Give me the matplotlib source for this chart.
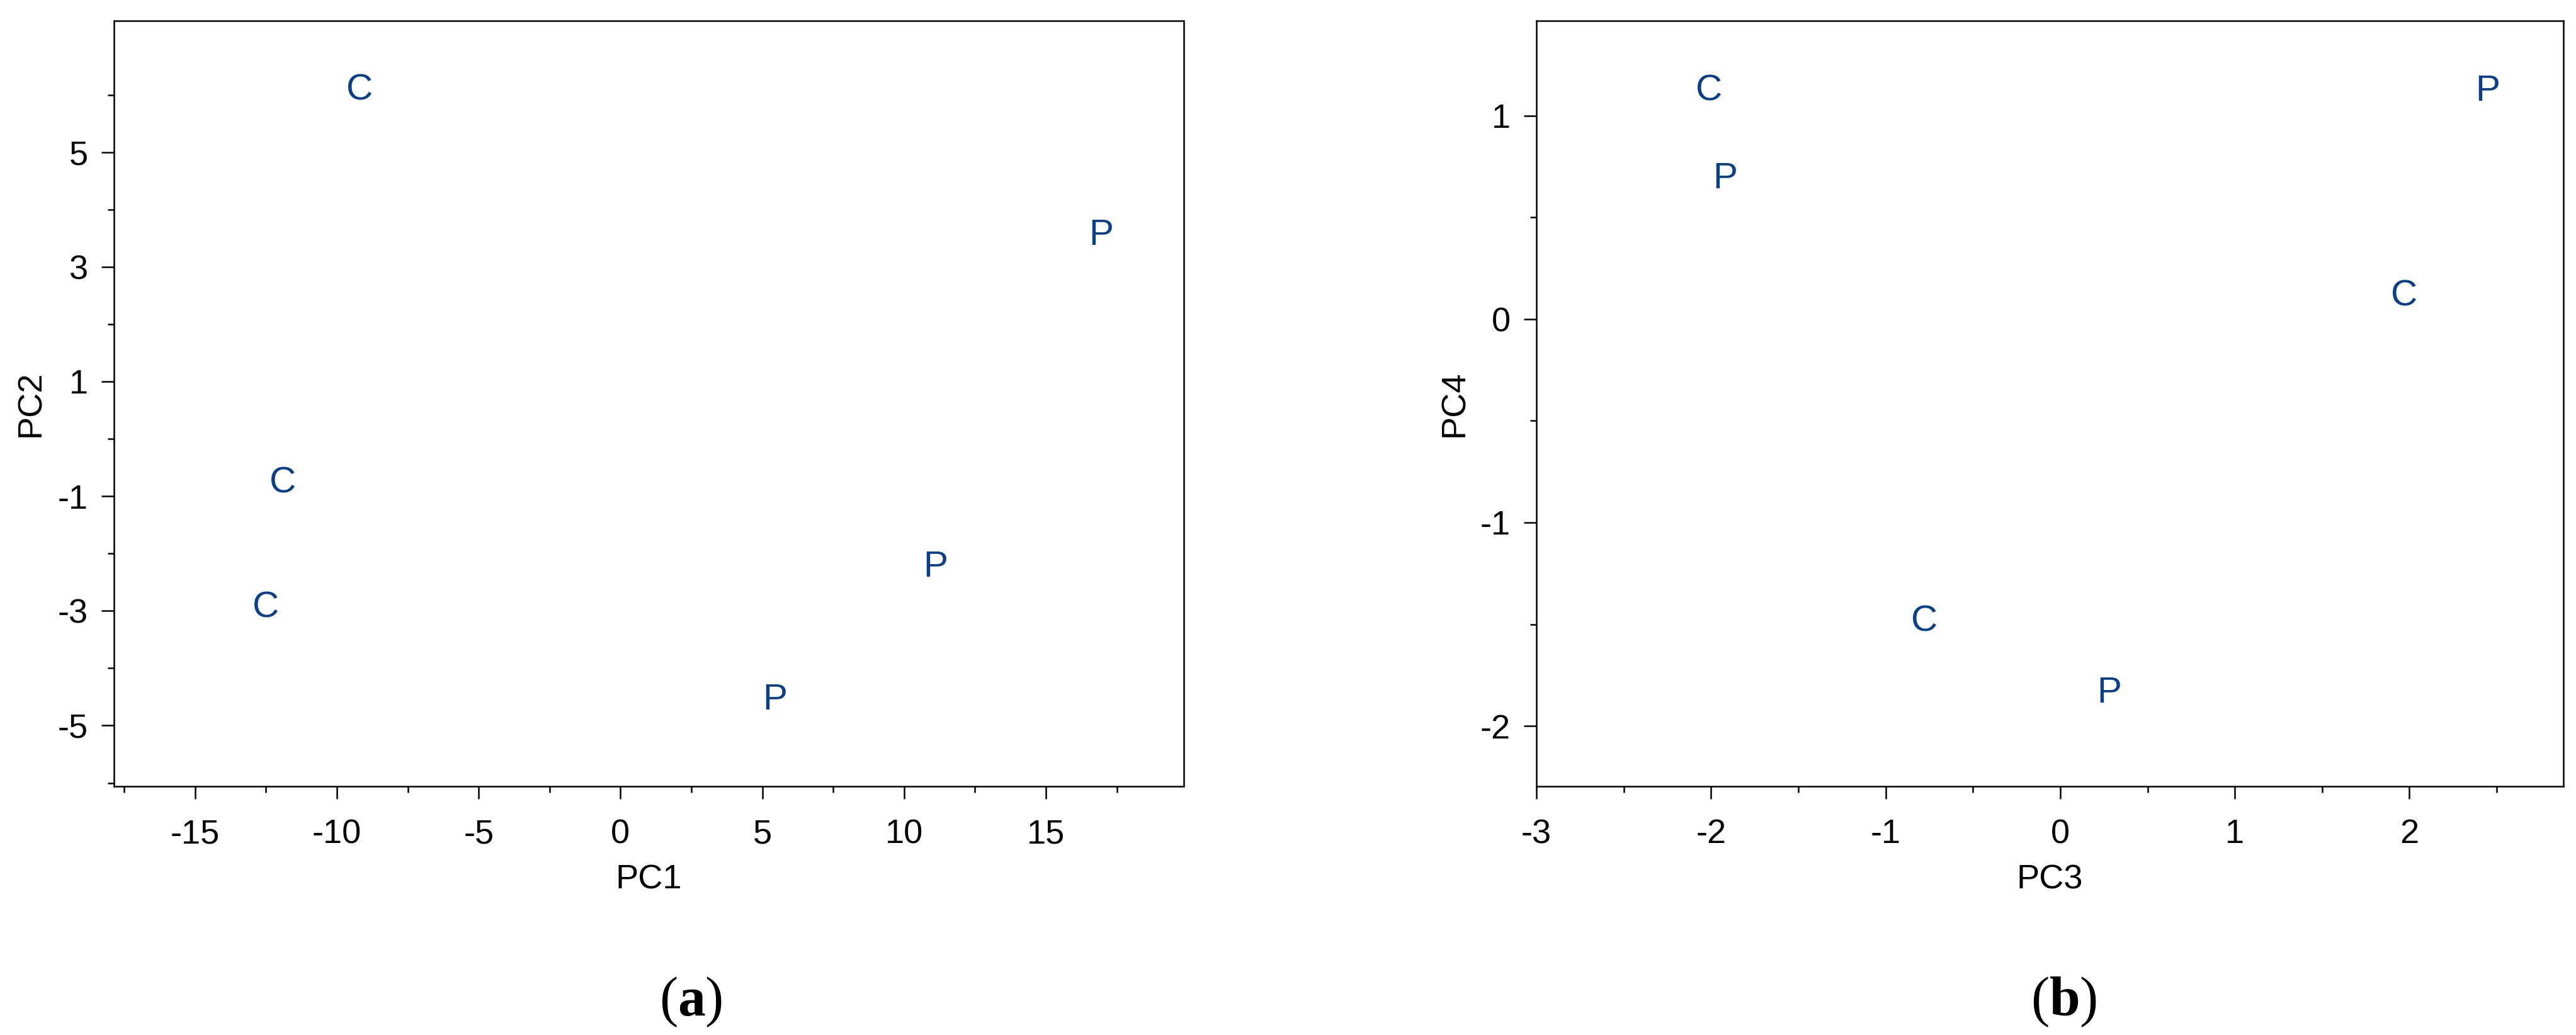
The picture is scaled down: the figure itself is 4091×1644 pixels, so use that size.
"""
PCA score plots: PC1 vs PC2 and PC3 vs PC4, points drawn as group letters
"""

import matplotlib
matplotlib.use("Agg")
import matplotlib.pyplot as plt
from matplotlib.ticker import MultipleLocator

plt.rcParams['font.family'] = ['Liberation Sans', 'DejaVu Sans']
plt.rcParams['axes.unicode_minus'] = False
plt.rcParams['mathtext.fontset'] = 'custom'
plt.rcParams['mathtext.rm'] = 'Liberation Serif'
plt.rcParams['mathtext.bf'] = 'Liberation Serif:bold'

# scores
groups = ['C', 'C', 'C', 'P', 'P', 'P']
pc1 = [-9.2, -11.9, -12.5, 16.95, 11.1, 5.45]
pc2 = [6.14, -0.71, -2.88, 3.61, -2.17, -4.49]
pc3 = [-2.01, 1.97, -0.78, -1.92, 2.45, 0.28]
pc4 = [1.14, 0.13, -1.47, 0.71, 1.14, -1.82]

LETTER_COLOR = '#0B3F88'

W, H, DPI = 4091, 1644, 300
fig = plt.figure(figsize=(W / DPI, H / DPI), dpi=DPI)

# axes boxes in pixel units of the reference
ax1 = fig.add_axes([181 / W, (H - 1249) / H, (1879.5 - 181) / W, (1249 - 33) / H])
ax2 = fig.add_axes([2440 / W, (H - 1249) / H, (4071 - 2440) / W, (1249 - 33) / H])


def style_axes(ax, xlab, ylab, ylab_x):
    for sp in ax.spines.values():
        sp.set_linewidth(0.6)
    ax.tick_params(which='major', length=4.8, width=0.6, labelsize=13)
    ax.tick_params(which='minor', length=2.4, width=0.6)
    ax.tick_params(axis='x', which='major', pad=7.5)
    ax.tick_params(axis='y', which='major', pad=5)
    ax.set_xlabel(xlab, fontsize=13, va='center')
    ax.xaxis.set_label_coords(0.5, -0.122)
    ax.set_ylabel(ylab, fontsize=13, va='center')
    ax.yaxis.set_label_coords(ylab_x, 0.5)


def draw_letters(ax, xs, ys):
    for x, y, g in zip(xs, ys, groups):
        ax.text(x, y, g, ha='center', va='center_baseline',
                fontsize=14, color=LETTER_COLOR)


# (a) PC1 / PC2
draw_letters(ax1, pc1, pc2)
ax1.set_xlim(-17.86, 19.85)
ax1.set_ylim(-6.06, 7.29)
ax1.set_xticks([-15, -10, -5, 0, 5, 10, 15])
ax1.xaxis.set_minor_locator(MultipleLocator(2.5))
ax1.set_yticks([-5, -3, -1, 1, 3, 5])
ax1.set_yticks([-6, -4, -2, 0, 2, 4, 6], minor=True)
style_axes(ax1, 'PC1', 'PC2', -0.078)

# (b) PC3 / PC4
draw_letters(ax2, pc3, pc4)
ax2.set_xlim(-3, 2.882)
ax2.set_ylim(-2.297, 1.467)
ax2.set_xticks([-3, -2, -1, 0, 1, 2])
ax2.xaxis.set_minor_locator(MultipleLocator(0.5))
ax2.set_yticks([-2, -1, 0, 1])
ax2.yaxis.set_minor_locator(MultipleLocator(0.5))
style_axes(ax2, 'PC3', 'PC4', -0.080)

# panel captions
fig.text(1097 / W, 1 - 1592 / H, r'($\mathbf{a}$)', ha='center', va='center',
         fontsize=21, family='Liberation Serif')
fig.text(3278 / W, 1 - 1592 / H, r'($\mathbf{b}$)', ha='center', va='center',
         fontsize=21, family='Liberation Serif')

fig.savefig('out.png', dpi=DPI)
